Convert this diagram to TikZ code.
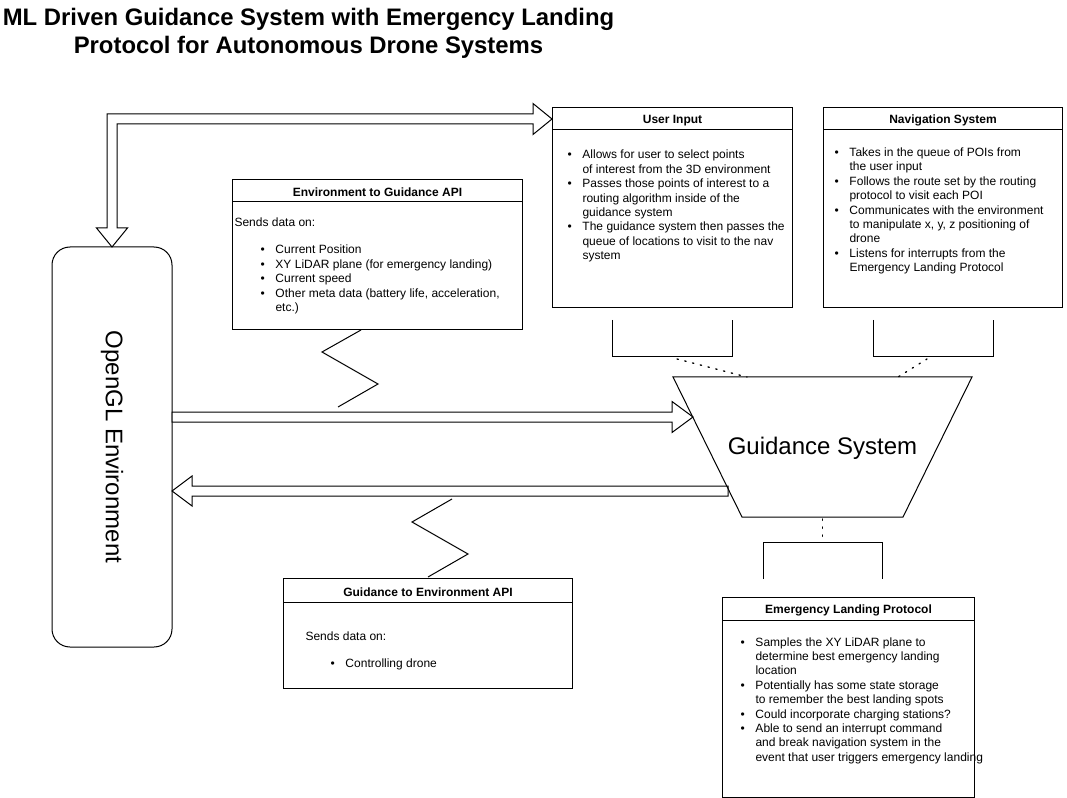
\documentclass[tikz,border=0pt]{standalone}
\usepackage{fontspec}
\setmainfont{Liberation Sans}
\usetikzlibrary{calc}
\newcommand{\bul}{\makebox[11.25pt][l]{\textbullet}}
\newcommand{\ind}{\hspace*{11.25pt}}
\begin{document}
\begin{tikzpicture}[x=0.75pt,y=-0.75pt,line width=0.75pt,
  box/.style 2 args={draw,fill=white,inner sep=0pt,anchor=north west,
    minimum width=#1*0.75pt,minimum height=#2*0.75pt},
  hdr/.style={font=\fontsize{9}{10.8}\selectfont\bfseries,inner sep=0pt},
  body/.style={font=\fontsize{9}{10.8}\selectfont,inner sep=0pt,anchor=base west},
  big/.style={font=\fontsize{18}{21}\selectfont,inner sep=0pt},
  flex/.style={draw,fill=white,line join=miter},
  dots/.style={line width=1pt,dash pattern=on 1pt off 5pt,line cap=round}]
\fill[white] (0,0) rectangle (1067,798);
\useasboundingbox (0,0) rectangle (1067,798);

% title
\node[font=\fontsize{17.9}{21}\selectfont\bfseries,align=center,inner sep=0pt] (title) at (308.5,33)
  {ML Driven Guidance System with Emergency Landing\\Protocol for Autonomous Drone Systems};

% OpenGL environment
\node[draw,rounded corners=13.5pt,minimum width=90pt,minimum height=300pt,inner sep=0pt] (ogl) at (112,447) {};
\node[big,rotate=-90] (ogltext) at (ogl.center) {OpenGL Environment};

% coordinates of the arrow ends
\coordinate (ta) at (552,119);   % tip at User Input
\coordinate (tb) at (112,247);   % tip at OpenGL
\coordinate (cin) at (117,124);  % inner corner
\coordinate (cout) at (107,114); % outer corner
\coordinate (ra0) at (172,417);
\coordinate (ra1) at (693,417);
\coordinate (la0) at (728,491);
\coordinate (la1) at (172,491);

% bidirectional flex arrow OpenGL <-> User Input
\draw[flex] ($(ta)+(-19,-5)$) -- ($(ta)+(-19,-15.5)$) -- (ta) -- ($(ta)+(-19,15.5)$) -- ($(ta)+(-19,5)$)
  -- (cin) -- ($(tb)+(5,-19)$) -- ($(tb)+(15.5,-19)$) -- (tb)
  -- ($(tb)+(-15.5,-19)$) -- ($(tb)+(-5,-19)$) -- (cout) -- cycle;

% right flex arrow OpenGL -> Guidance
\draw[flex] ($(ra0)+(0,-5)$) -- ($(ra1)+(-21,-5)$) -- ($(ra1)+(-21,-15.5)$) -- (ra1)
  -- ($(ra1)+(-21,15.5)$) -- ($(ra1)+(-21,5)$) -- ($(ra0)+(0,5)$) -- cycle;

% left flex arrow Guidance -> OpenGL
\draw[flex] ($(la0)+(0,-5)$) -- ($(la1)+(20,-5)$) -- ($(la1)+(20,-15)$) -- (la1)
  -- ($(la1)+(20,15)$) -- ($(la1)+(20,5)$) -- ($(la0)+(0,5)$) -- cycle;

% Guidance system trapezoid
\coordinate (g1) at (673,377);
\coordinate (g2) at (972,377);
\coordinate (g3) at (903,517);
\coordinate (g4) at (742,517);
\draw (g1) -- (g2) -- (g3) -- (g4) -- cycle;
\node[big] (gs) at (822.5,448) {Guidance System};

% User Input
\node[box={240}{200}] (ui) at (552,107) {};
\draw ($(ui.north west)+(0,23)$) -- ($(ui.north east)+(0,23)$);
\node[hdr] (uit) at ($(ui.north)+(0,13.5)$) {User Input};
\node[body] (uib) at (567,159) {\begin{tabular}[t]{@{}l@{}}
\bul Allows for user to select points\\
\ind of interest from the 3D environment\\
\bul Passes those points of interest to a\\
\ind routing algorithm inside of the\\
\ind guidance system\\
\bul The guidance system then passes the\\
\ind queue of locations to visit to the nav\\
\ind system
\end{tabular}};

% Navigation System
\node[box={239}{200}] (nav) at (823,107) {};
\draw ($(nav.north west)+(0,23)$) -- ($(nav.north east)+(0,23)$);
\node[hdr] (navt) at ($(nav.north)+(0,13)$) {Navigation System};
\node[body] (navb) at (834,156.5) {\begin{tabular}[t]{@{}l@{}}
\bul Takes in the queue of POIs from\\
\ind the user input\\
\bul Follows the route set by the routing\\
\ind protocol to visit each POI\\
\bul Communicates with the environment\\
\ind to manipulate x, y, z positioning of\\
\ind drone\\
\bul Listens for interrupts from the\\
\ind Emergency Landing Protocol
\end{tabular}};

% Environment to Guidance API
\node[box={290}{150}] (e2g) at (232,179) {};
\draw ($(e2g.north west)+(0,23)$) -- ($(e2g.north east)+(0,23)$);
\node[hdr] (e2gt) at ($(e2g.north)+(0,13)$) {Environment to Guidance API};
\node[body] (e2gs) at (234,227) {Sends data on:};
\node[body] (e2gb) at (260,254) {\begin{tabular}[t]{@{}l@{}}
\bul Current Position\\
\bul XY LiDAR plane (for emergency landing)\\
\bul Current speed\\
\bul Other meta data (battery life, acceleration,\\
\ind etc.)
\end{tabular}};

% Guidance to Environment API
\node[box={289}{110}] (g2e) at (283,578) {};
\draw ($(g2e.north west)+(0,24)$) -- ($(g2e.north east)+(0,24)$);
\node[hdr] (g2et) at ($(g2e.north)+(0,14)$) {Guidance to Environment API};
\node[body] (g2es) at (305,640) {Sends data on:};
\node[body] (g2eb) at (330,667) {\begin{tabular}[t]{@{}l@{}}
\bul Controlling drone
\end{tabular}};

% Emergency Landing Protocol
\node[box={252}{200}] (elp) at (722,597) {};
\draw ($(elp.north west)+(0,23)$) -- ($(elp.north east)+(0,23)$);
\node[hdr] (elpt) at ($(elp.north)+(0,13.5)$) {Emergency Landing Protocol};
\node[body] (elpb) at (740,646) {\begin{tabular}[t]{@{}l@{}}
\bul Samples the XY LiDAR plane to\\
\ind determine best emergency landing\\
\ind location\\
\bul Potentially has some state storage\\
\ind to remember the best landing spots\\
\bul Could incorporate charging stations?\\
\bul Able to send an interrupt command\\
\ind and break navigation system in the\\
\ind event that user triggers emergency landing
\end{tabular}};

% brackets
\coordinate (bu1) at (612,320); \coordinate (bu2) at (732,320);
\draw (bu1) -- (612,357) -- (732,357) -- (bu2);
\coordinate (bn1) at (873,320); \coordinate (bn2) at (993,320);
\draw (bn1) -- (873,357) -- (993,357) -- (bn2);
\coordinate (be1) at (763,579); \coordinate (be2) at (882,579);
\draw (be1) -- (763,542) -- (882,542) -- (be2);

% dotted connectors
\coordinate (du) at (677,359); \coordinate (dug) at (747,377);
\draw[dots] (du) -- (dug);
\coordinate (dn) at (927,359); \coordinate (dng) at (898,377);
\draw[dots] (dn) -- (dng);
\coordinate (de) at (822.5,519); \coordinate (deg) at (822.5,542);
\draw[dots] (de) -- (deg);

% zigzag connectors
\coordinate (z1a) at (361,330); \coordinate (z1b) at (338,407);
\draw (z1a) -- (322,352) -- (378,384) -- (z1b);
\coordinate (z2a) at (452,499); \coordinate (z2b) at (428,577);
\draw (z2a) -- (412,522) -- (468,554) -- (z2b);
\end{tikzpicture}
\end{document}
